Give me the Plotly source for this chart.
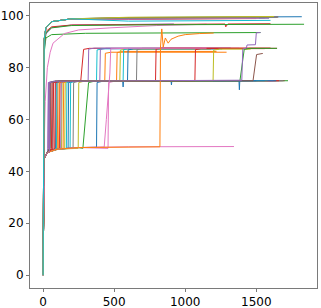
import plotly.graph_objects as go

BLUE = '#1f77b4'; ORANGE = '#ff7f0e'; GREEN = '#2ca02c'; RED = '#d62728'; PURPLE = '#9467bd'
BROWN = '#8c564b'; PINK = '#e377c2'; GRAY = '#7f7f7f'; OLIVE = '#bcbd22'; CYAN = '#17becf'

# shared early shapes of the curves (epoch, accuracy)
rise_half_x = [0, 3, 8, 30, 100, 250, 600]
rise_half_y = [0, 36, 45, 47.3, 48.6, 49.2, 49.5]
rise_top_x = [0, 3, 8, 20, 60, 200]
rise_top_y = [0, 72, 91, 95.5, 97.8, 98.9]

# runs converging near 100: final value, last epoch
top_final = [99.7, 99.5, 99.3, 99.0, 99.1, 99.6, 99.2, 99.4, 99.8, 98.3]
top_end = [1820, 1580, 1560, 1500, 1590, 1655, 1520, 1650, 1625, 1600]
top_colors = [BLUE, ORANGE, GREEN, RED, PURPLE, BROWN, PINK, GRAY, OLIVE, CYAN]

# runs near 97 / 93.6 (explicit keypoints)
curve_97_green = [(0, 0), (3, 68), (8, 88), (20, 93.5), (60, 95.4), (200, 96.3), (800, 96.6), (1836, 96.8)]
curve_97_red = [(0, 0), (3, 70), (8, 89), (20, 94), (60, 95.8), (200, 96.5), (1280, 96.9), (1285, 95.8), (1300, 96.9), (1600, 97.0)]
curve_97_purple = [(0, 0), (3, 66), (8, 87), (20, 93), (60, 95.5), (200, 96.5), (920, 96.9)]
curve_97_pink = [(0, 0), (3, 30), (8, 50), (15, 67), (30, 80), (50, 86), (70, 89.5), (150, 93.2),
                 (250, 94.6), (470, 95.4), (800, 96.3), (1150, 96.8)]
curve_93_green = [(0, 0), (3, 62), (8, 86), (20, 91.5), (60, 92.8), (300, 93.3), (1530, 93.6)]
curve_93_orange = [(0, 0), (3, 36), (8, 45), (30, 47.3), (100, 48.6), (250, 49.2), (600, 49.5), (822, 49.5),
                   (826, 88), (835, 95), (845, 88), (860, 91.5), (880, 89.5), (900, 91), (950, 92.2),
                   (1000, 92.8), (1100, 93.2), (1200, 93.4)]
curve_93_purple = [(0, 0), (3, 36), (8, 45), (30, 47.3), (45, 47.6), (48, 74.3), (90, 74.8), (1398, 75.2),
                   (1405, 87.3), (1430, 87.6), (1435, 88.8), (1494, 88.9), (1500, 93.5), (1530, 93.6)]

# runs that go 50 -> 75 -> ~87.5: jump to 75, jump to top level, level, last epoch, rise width
s87_a = [59, 33, 94, 124, 110, 141, 152, 164, 176, 211, 82, 70, 247, 47, 50]
s87_b = [265, 317, 376, 399, 434, 517, 540, 563, 594, 657, 791, 1068, 1196, 1385, 1477]
s87_level = [87.5, 87.6, 87.3, 87.5, 86.0, 86.3, 87.2, 87.4, 87.3, 87.5, 87.6, 87.4, 87.2, 87.5, 85.5]
s87_end = [1646, 1320, 1260, 1380, 1291, 1220, 1180, 1050, 1240, 1120, 1600, 1560, 1460, 1646, 1547]
s87_width = [20, 4, 4, 4, 4, 4, 4, 4, 4, 4, 4, 4, 4, 30, 25]
s87_colors = [RED, PURPLE, CYAN, PURPLE, ORANGE, ORANGE, OLIVE, CYAN, BLUE, GRAY, RED, RED, OLIVE, GREEN, BROWN]

# pink run rising slowly from 50 straight to 87.5
curve_87_pink = [(0, 0), (3, 36), (8, 45), (30, 47.3), (100, 48.6), (250, 49.2), (430, 49.4), (445, 60),
                 (460, 70), (470, 78), (476, 87.3), (600, 87.5), (1150, 87.6)]

# blue run at 75 with visible dips
curve_75_blue = [(0, 0), (3, 36), (8, 45), (30, 47.3), (100, 48.6), (250, 49.2), (376, 49.3), (380, 74.3),
                 (420, 74.8), (560, 74.9), (563, 72.6), (566, 74.9), (900, 75.0), (903, 73.4), (906, 75.0),
                 (1378, 75.0), (1381, 71.5), (1384, 75.0), (1640, 75.0)]

# runs that stay at ~75: jump epoch, last epoch, rise width
s75_a = [280, 457, 40, 65, 100, 115, 35, 130, 190, 88]
s75_end = [1723, 1678, 1700, 1690, 1600, 1660, 1620, 1580, 1560, 1500]
s75_width = [40, 4, 4, 4, 4, 4, 4, 4, 4, 4]
s75_colors = [GREEN, PINK, BROWN, GRAY, ORANGE, RED, PURPLE, OLIVE, CYAN, BLUE]

# run that stays at 50
s50_end = [1343]
s50_colors = [PINK]


def half_until(xj):
    return [(x, y) for x, y in zip(rise_half_x, rise_half_y) if x < xj]


curves = []  # (points, colour)

for end, col in zip(s50_end, s50_colors):
    curves.append((half_until(end) + [(end, 49.6)], col))

for a, end, w, col in zip(s75_a, s75_end, s75_width, s75_colors):
    pts = half_until(a) + [(a, 48.9), (a + w, 74.3), (a + w + 40, 74.8), (end, 75.0)]
    curves.append((pts, col))
curves.append((curve_75_blue, BLUE))

for a, b, lev, end, w, col in zip(s87_a, s87_b, s87_level, s87_end, s87_width, s87_colors):
    pts = half_until(a) + [(a, 48.9), (a + 4, 74.3), (a + 40, 74.8), (b, 75.0),
                           (b + w, lev - 0.4), (b + w + 40, lev), (end, lev)]
    curves.append((pts, col))

curves.append((curve_87_pink, PINK))
curves.append((curve_93_green, GREEN))
curves.append((curve_93_orange, ORANGE))
curves.append((curve_93_purple, PURPLE))
curves.append((curve_97_pink, PINK))
curves.append((curve_97_purple, PURPLE))
curves.append((curve_97_red, RED))
curves.append((curve_97_green, GREEN))

for fin, end, col in zip(top_final, top_end, top_colors):
    pts = list(zip(rise_top_x, rise_top_y)) + [(600, fin - 0.3), (end, fin)]
    curves.append((pts, col))

fig = go.Figure()
for pts, col in curves:
    fig.add_trace(go.Scatter(
        x=[p[0] for p in pts], y=[p[1] for p in pts], mode='lines',
        line=dict(color=col, width=1), showlegend=False, hoverinfo='skip'))

axis_common = dict(showgrid=False, zeroline=False, showline=True, linecolor='#7a7a7a', linewidth=1,
                   mirror=True, ticks='outside', ticklen=3, tickcolor='#7a7a7a', automargin=False,
                   tickfont=dict(family='DejaVu Sans', size=12, color='black'))
fig.update_xaxes(range=[-92, 1927], tickvals=[0, 500, 1000, 1500], **axis_common)
fig.update_yaxes(range=[-5, 105], tickvals=[0, 20, 40, 60, 80, 100], **axis_common)
fig.update_layout(width=321, height=308, margin=dict(l=30, r=4, t=3, b=20, autoexpand=False),
                  plot_bgcolor='white', paper_bgcolor='white')
fig.write_html('out.html', config={'displayModeBar': False},
               post_script="document.body.style.margin='0px';document.body.style.overflow='hidden';")
